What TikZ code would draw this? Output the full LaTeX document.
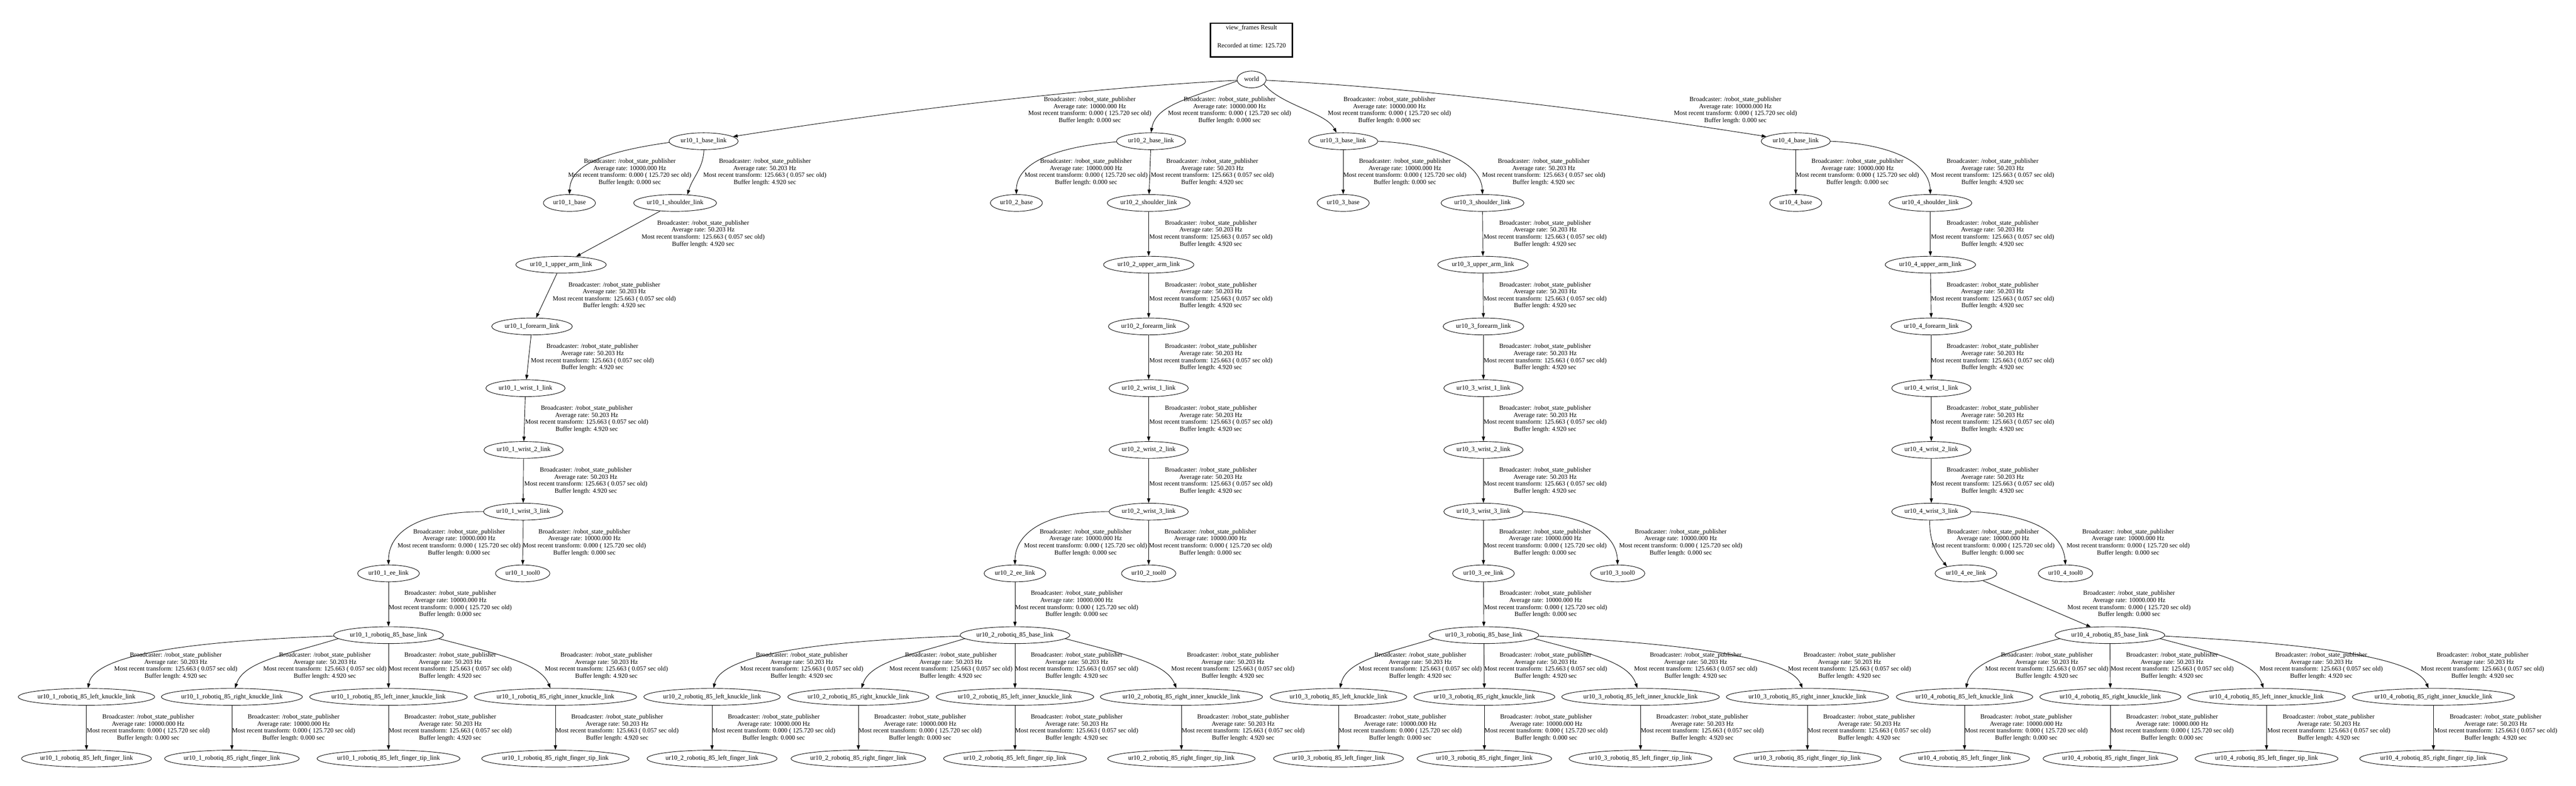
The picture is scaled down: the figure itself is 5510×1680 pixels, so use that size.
\documentclass[tikz,border=0pt]{standalone}
\usepackage{fontspec}
\setmainfont{Liberation Serif}
\usetikzlibrary{shapes.geometric,arrows.meta}
\newcommand\lblA{Broadcaster: /robot\_state\_publisher\\Average rate: 10000.000 Hz\\Most recent transform: 0.000 ( 125.720 sec old)\\Buffer length: 0.000 sec}
\newcommand\lblB{Broadcaster: /robot\_state\_publisher\\Average rate: 50.203 Hz\\Most recent transform: 125.663 ( 0.057 sec old)\\Buffer length: 4.920 sec}
% box whose width gives an ellipse of width 1.295*(text+16pt), as the reference does
\newcommand\frtext[1]{\setbox0\hbox{#1}\dimen0=0.9158\wd0 \advance\dimen0 by 14.65pt\relax\hbox to \dimen0{\hss\box0\hss}}
\hfuzz=1000pt
\tikzset{
  fr/.style={ellipse, draw, line width=1pt, inner xsep=0pt, inner ysep=0pt,
    minimum height=36pt, text height=9.5pt, text depth=3pt},
  lab/.style={align=center, inner sep=0pt},
  arr/.style={-{Triangle[length=10pt,width=7pt]}, line width=1pt},
  legendbox/.style={draw, line width=3pt, minimum width=175pt, minimum height=72pt,
    align=center, inner sep=0pt}
}
\begin{document}
\begin{tikzpicture}[x=1pt,y=1pt,font=\fontsize{13.7}{15}\selectfont]
\useasboundingbox (0,0) rectangle (5510,1680);
\fill[white] (0,0) rectangle (5510,1680);

\node[legendbox] (legend) at (2677,1594.5) {view\_frames Result\\[23pt]Recorded at time: 125.720\\[0pt]\mbox{}};
\node[fr] (world) at (2677,1510) {\frtext{world}};

\foreach \n/\xbl/\xba/\xsh/\xua/\xfa/\xwa/\xwb/\xwc/\xee/\xto/\xrb/\xlk/\xrk/\xli/\xri in {
1/1505/1218/1444/1200/1138/1124/1120/1119/831/1118/831/185/496/831/1188,
2/2462/2174/2457/2457/2457/2457/2457/2457/2171/2457/2171/1523/1836/2171/2527,
3/2873/2873/3171/3172/3173/3173/3173/3173/3173/3460/3174/2863/3175/3509/3866,
4/3841/3841/4129/4129/4131/4131/4131/4131/4205/4418/4513/4202/4514/4848/5205}{
  \node[fr] (t\n bl) at (\xbl,1378) {\frtext{ur10\_\n\_base\_link}};
  \node[fr] (t\n base) at (\xba,1246) {\frtext{ur10\_\n\_base}};
  \node[fr] (t\n sh) at (\xsh,1246) {\frtext{ur10\_\n\_shoulder\_link}};
  \node[fr] (t\n ua) at (\xua,1114) {\frtext{ur10\_\n\_upper\_arm\_link}};
  \node[fr] (t\n fa) at (\xfa,982) {\frtext{ur10\_\n\_forearm\_link}};
  \node[fr] (t\n wa) at (\xwa,850) {\frtext{ur10\_\n\_wrist\_1\_link}};
  \node[fr] (t\n wb) at (\xwb,718) {\frtext{ur10\_\n\_wrist\_2\_link}};
  \node[fr] (t\n wc) at (\xwc,586) {\frtext{ur10\_\n\_wrist\_3\_link}};
  \node[fr] (t\n ee) at (\xee,454) {\frtext{ur10\_\n\_ee\_link}};
  \node[fr] (t\n to) at (\xto,454) {\frtext{ur10\_\n\_tool0}};
  \node[fr] (t\n rb) at (\xrb,322) {\frtext{ur10\_\n\_robotiq\_85\_base\_link}};
  \node[fr] (t\n lk) at (\xlk,190) {\frtext{ur10\_\n\_robotiq\_85\_left\_knuckle\_link}};
  \node[fr] (t\n rk) at (\xrk,190) {\frtext{ur10\_\n\_robotiq\_85\_right\_knuckle\_link}};
  \node[fr] (t\n li) at (\xli,190) {\frtext{ur10\_\n\_robotiq\_85\_left\_inner\_knuckle\_link}};
  \node[fr] (t\n ri) at (\xri,190) {\frtext{ur10\_\n\_robotiq\_85\_right\_inner\_knuckle\_link}};
  \node[fr] (t\n lf) at (\xlk,58) {\frtext{ur10\_\n\_robotiq\_85\_left\_finger\_link}};
  \node[fr] (t\n rf) at (\xrk,58) {\frtext{ur10\_\n\_robotiq\_85\_right\_finger\_link}};
  \node[fr] (t\n lt) at (\xli,58) {\frtext{ur10\_\n\_robotiq\_85\_left\_finger\_tip\_link}};
  \node[fr] (t\n rt) at (\xri,58) {\frtext{ur10\_\n\_robotiq\_85\_right\_finger\_tip\_link}};
}

% edge labels
\foreach \x/\y/\t in {
2331/1444/A, 2630/1444/A, 2972/1444/A, 3712/1444/A,
1347/1312/A, 1636/1312/B, 2323/1312/A, 2593/1312/B, 3005/1312/A, 3302/1312/B, 3973/1312/A, 4262/1312/B,
1504/1180/B, 2590/1180/B, 3305/1180/B, 4262/1180/B,
1314/1048/B, 2590/1048/B, 3305/1048/B, 4262/1048/B,
1267/916/B, 2590/916/B, 3305/916/B, 4262/916/B,
1255/784/B, 2590/784/B, 3305/784/B, 4262/784/B,
1253/652/B, 2590/652/B, 3305/652/B, 4262/652/B,
982/520/A, 1250/520/A, 2322/520/A, 2589/520/A, 3305/520/A, 3595/520/A, 4263/520/A, 4552/520/A,
963/388/A, 2303/388/A, 3306/388/A, 4554/388/A,
376/256/B, 695/256/B, 963/256/B, 1297/256/B, 1715/256/B, 2034/256/B, 2303/256/B, 2637/256/B,
3038/256/B, 3306/256/B, 3627/256/B, 3956/256/B, 4378/256/B, 4646/256/B, 4965/256/B, 5310/256/B,
317/124/A, 628/124/A, 963/124/B, 1320/124/B, 1655/124/A, 1968/124/A, 2303/124/B, 2659/124/B,
2995/124/A, 3307/124/A, 3641/124/B, 3998/124/B, 4334/124/A, 4646/124/A, 4981/124/B, 5338/124/B}{
  \node[lab] (lab-\x-\y) at (\x,\y) {\csname lbl\t\endcsname};
}

% common straight edges
\foreach \n in {1,2,3,4}{
  \draw[arr] (t\n sh) -- (t\n ua);
  \draw[arr] (t\n ua) -- (t\n fa);
  \draw[arr] (t\n fa) -- (t\n wa);
  \draw[arr] (t\n wa) -- (t\n wb);
  \draw[arr] (t\n wb) -- (t\n wc);
  \draw[arr] (t\n ee) -- (t\n rb);
  \draw[arr] (t\n lk) -- (t\n lf);
  \draw[arr] (t\n rk) -- (t\n rf);
  \draw[arr] (t\n li) -- (t\n lt);
  \draw[arr] (t\n ri) -- (t\n rt);
}

% world edges
\draw[arr] (world.183) .. controls +(183:350) and +(9:350) .. (t1bl.9);
\draw[arr] (world.186) .. controls +(200:110) and +(80:60) .. (t2bl.90);
\draw[arr] (world.-21) .. controls +(-50:60) and +(118:50) .. (t3bl.128);
\draw[arr] (world.-3) .. controls +(-3:350) and +(171:350) .. (t4bl.171);

% tree 1
\draw[arr] (t1bl.182) .. controls +(188:150) and +(88:60) .. (t1base.90);
\draw[arr] (t1bl.-88) .. controls +(-92:40) and +(73:40) .. (t1sh.34);
\draw[arr] (t1wc) -- (t1to);
\draw[arr] (t1wc.180) .. controls +(180:140) and +(90:70) .. (t1ee.90);
\draw[arr] (t1rb.181) .. controls +(182:330) and +(80:70) .. (t1lk.80);
\draw[arr] (t1rb.184) .. controls +(197:120) and +(72:60) .. (t1rk.70);
\draw[arr] (t1rb) -- (t1li);
\draw[arr] (t1rb.-4) .. controls +(-15:120) and +(112:60) .. (t1ri.120);

% tree 2
\draw[arr] (t2bl.181) .. controls +(185:150) and +(90:60) .. (t2base.90);
\draw[arr] (t2bl) -- (t2sh);
\draw[arr] (t2wc) -- (t2to);
\draw[arr] (t2wc.180) .. controls +(180:150) and +(90:60) .. (t2ee.90);
\draw[arr] (t2rb.181) .. controls +(182:330) and +(78:70) .. (t2lk.80);
\draw[arr] (t2rb.184) .. controls +(197:120) and +(72:60) .. (t2rk.70);
\draw[arr] (t2rb) -- (t2li);
\draw[arr] (t2rb.-4) .. controls +(-15:130) and +(112:60) .. (t2ri.120);

% tree 3
\draw[arr] (t3bl) -- (t3base);
\draw[arr] (t3bl.0) .. controls +(-3:150) and +(92:60) .. (t3sh.90);
\draw[arr] (t3wc) -- (t3ee);
\draw[arr] (t3wc.0) .. controls +(-3:150) and +(92:60) .. (t3to.90);
\draw[arr] (t3rb.184) .. controls +(197:110) and +(78:60) .. (t3lk.80);
\draw[arr] (t3rb) -- (t3rk);
\draw[arr] (t3rb.-4) .. controls +(-15:120) and +(108:60) .. (t3li.110);
\draw[arr] (t3rb.-1) .. controls +(-3:330) and +(112:70) .. (t3ri.120);

% tree 4
\draw[arr] (t4bl) -- (t4base);
\draw[arr] (t4bl.0) .. controls +(-3:150) and +(92:60) .. (t4sh.90);
\draw[arr] (t4wc.-100) .. controls +(-92:40) and +(130:40) .. (t4ee.160);
\draw[arr] (t4wc.0) .. controls +(-3:150) and +(95:60) .. (t4to.90);
\draw[arr] (t4rb.184) .. controls +(195:110) and +(78:60) .. (t4lk.80);
\draw[arr] (t4rb) -- (t4rk);
\draw[arr] (t4rb.-4) .. controls +(-15:120) and +(108:60) .. (t4li.110);
\draw[arr] (t4rb.-1) .. controls +(-3:330) and +(112:70) .. (t4ri.120);
\end{tikzpicture}
\end{document}
